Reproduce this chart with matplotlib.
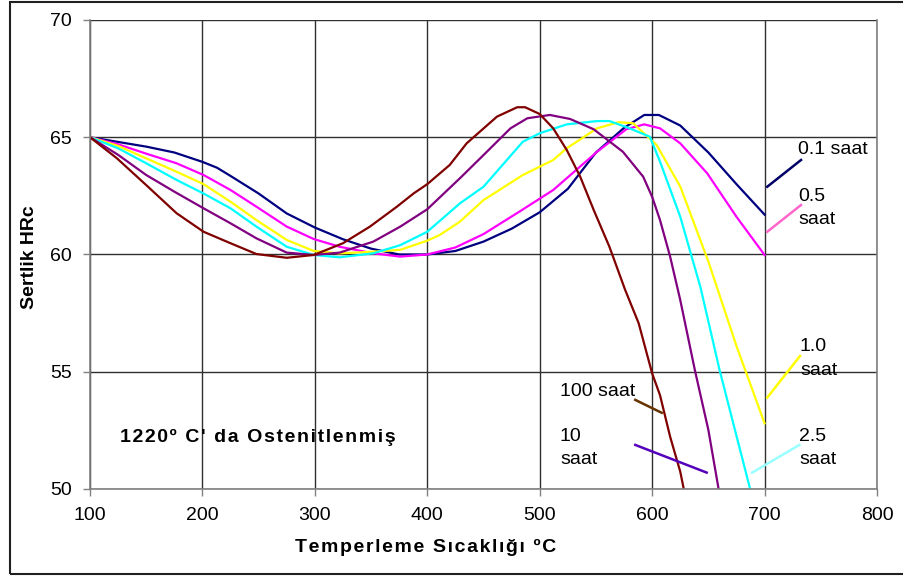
import matplotlib
matplotlib.use('Agg')
import matplotlib.pyplot as plt
from matplotlib.patches import Rectangle

plt.rcParams['font.family'] = ['Liberation Sans', 'DejaVu Sans']

# Temperleme sicakligi (C) ve sertlik (HRc), her egri icin okunan noktalar
t_01 = [100, 125, 150, 175, 200, 213, 225, 250, 275, 300, 325, 350, 375, 400, 425,
        450, 475, 500, 525, 550, 575, 593, 606, 625, 650, 675, 700]
h_01 = [65, 64.8, 64.6, 64.35, 63.95, 63.7, 63.35, 62.6, 61.75, 61.15, 60.65, 60.25, 60.0, 60.0, 60.15,
        60.55, 61.1, 61.8, 62.8, 64.35, 65.4, 65.95, 65.95, 65.5, 64.35, 63.0, 61.7]

t_05 = [100, 125, 150, 177, 201, 225, 248, 275, 299, 322, 352, 376, 400, 425, 450,
        482, 512, 551, 577, 593, 607, 625, 649, 675, 700]
h_05 = [65, 64.7, 64.3, 63.89, 63.39, 62.75, 62.04, 61.19, 60.66, 60.33, 60.05, 59.91, 60.0, 60.3, 60.87,
        61.83, 62.75, 64.38, 65.34, 65.55, 65.38, 64.74, 63.46, 61.61, 59.98]

t_10 = [100, 125, 150, 177, 201, 225, 248, 275, 299, 322, 352, 376, 400, 411, 429,
        450, 485, 512, 524, 551, 570, 583, 604, 625, 650, 675, 700]
h_10 = [65, 64.63, 64.1, 63.53, 63.0, 62.25, 61.47, 60.62, 60.15, 60.05, 60.12, 60.2, 60.59, 60.83, 61.4,
        62.32, 63.39, 64.03, 64.53, 65.38, 65.64, 65.6, 64.67, 62.9, 59.7, 56.1, 52.8]

t_25 = [100, 125, 150, 177, 201, 225, 248, 275, 299, 322, 352, 376, 400, 429, 450,
        485, 500, 524, 551, 562, 580, 598, 607, 625, 643, 660, 687, 690]
h_25 = [65, 64.53, 63.89, 63.18, 62.6, 61.97, 61.19, 60.33, 59.98, 59.88, 60.05, 60.4, 60.97, 62.18, 62.89,
        64.81, 65.17, 65.55, 65.69, 65.69, 65.38, 65.02, 63.96, 61.61, 58.6, 55.07, 50.03, 49.4]

t_100 = [100, 125, 150, 175, 201, 225, 248, 275, 299, 322, 352, 376, 400, 429, 450,
         474, 489, 509, 527, 548, 574, 592, 600, 607, 616, 625, 638, 650, 659, 662]
h_100 = [65, 64.25, 63.39, 62.68, 61.97, 61.33, 60.69, 60.08, 59.98, 60.08, 60.55, 61.19, 61.93, 63.25, 64.24,
         65.38, 65.81, 65.95, 65.78, 65.34, 64.38, 63.32, 62.46, 61.47, 59.91, 58.06, 55.07, 52.52, 50.03, 49.3]

t_1000 = [100, 124, 150, 177, 201, 225, 248, 275, 299, 325, 349, 373, 388, 400, 420, 435,
          462, 480, 487, 500, 512, 524, 536, 548, 562, 576, 588, 600, 607, 616, 625, 628, 630]
h_1000 = [65, 64.1, 62.96, 61.76, 60.97, 60.48, 60.02, 59.86, 59.98, 60.48, 61.19, 62.04, 62.61, 63.0, 63.82, 64.74,
          65.88, 66.28, 66.28, 65.99, 65.38, 64.46, 63.32, 61.9, 60.33, 58.49, 57.07, 54.93, 54.0, 52.23, 50.74, 50.03, 49.5]

series = [
    (t_01, h_01, '#000080'),
    (t_05, h_05, '#FF00FF'),
    (t_10, h_10, '#FFFF00'),
    (t_25, h_25, '#00FFFF'),
    (t_100, h_100, '#800080'),
    (t_1000, h_1000, '#800000'),
]

# etiket metinleri ve konumlari (veri koordinatlari)
labels = [
    ('0.1 saat', 729.7, 64.46),
    ('0.5', 729.7, 62.49), ('saat', 729.7, 61.51),
    ('1.0', 731.5, 56.06), ('saat', 731.5, 55.07),
    ('2.5', 730.6, 52.22), ('saat', 730.6, 51.24),
    ('100 saat', 518.0, 54.14),
    ('10', 518.0, 52.22), ('saat', 518.0, 51.24),
]
# etiket baglanti cizgileri
leaders = [
    ((732.4, 702.4), (64.03, 62.89), '#000066'),
    ((732.4, 702.4), (62.11, 60.97), '#FF66CC'),
    ((731.5, 702.4), (55.67, 53.9), '#FFFF00'),
    ((731.0, 689.0), (51.88, 50.7), '#99FFFF'),
    ((585.0, 608.5), (53.8, 53.25), '#663300'),
    ((585.0, 648.5), (51.88, 50.7), '#5500BB'),
]


def spaced(s):
    # Excel'deki genis harf araligina yaklasmak icin harfler arasina ince bosluk
    return '\u200a'.join(s)


fig = plt.figure(figsize=(9.04, 5.76), dpi=100)
ax = fig.add_axes([90 / 904, 87 / 576, 787 / 904, 469 / 576])

for t, h, c in series:
    ax.plot(t, h, color=c, lw=1.6, solid_joinstyle='round')

for xs, ys, c in leaders:
    ax.plot(xs, ys, color=c, lw=1.8, clip_on=False)

for txt, x, y in labels:
    ax.text(x, y, txt, fontsize=14, ha='left', va='center')

ax.text(127, 52.2, spaced("1220º C' da Ostenitlenmiş"), fontsize=14, fontweight='bold',
        ha='left', va='center')

ax.set_xlim(100, 800)
ax.set_ylim(50, 70)
ax.set_xticks(range(100, 801, 100))
ax.set_yticks(range(50, 71, 5))
ax.grid(True, color='#303030', lw=1.0)
ax.set_axisbelow(True)
ax.tick_params(labelsize=14, length=5, width=1, color='#808080', pad=8)
for s in ax.spines.values():
    s.set_color('#808080')
    s.set_linewidth(1.2)
ax.spines['top'].set_visible(False)

fig.text(30 / 904, 1 - 257 / 576, 'Sertlik HRc', rotation=90, fontsize=14,
         fontweight='bold', ha='center', va='center')
fig.text(426 / 904, 1 - 547 / 576, spaced('Temperleme Sıcaklığı ºC'), fontsize=14,
         fontweight='bold', ha='center', va='center')

# dis cerceve
fig.patches.append(Rectangle((10 / 904, 2 / 576), 1.2, 1 - 4 / 576, transform=fig.transFigure,
                             fill=False, edgecolor='#202020', lw=1.5))

fig.savefig('out.png', dpi=100)
